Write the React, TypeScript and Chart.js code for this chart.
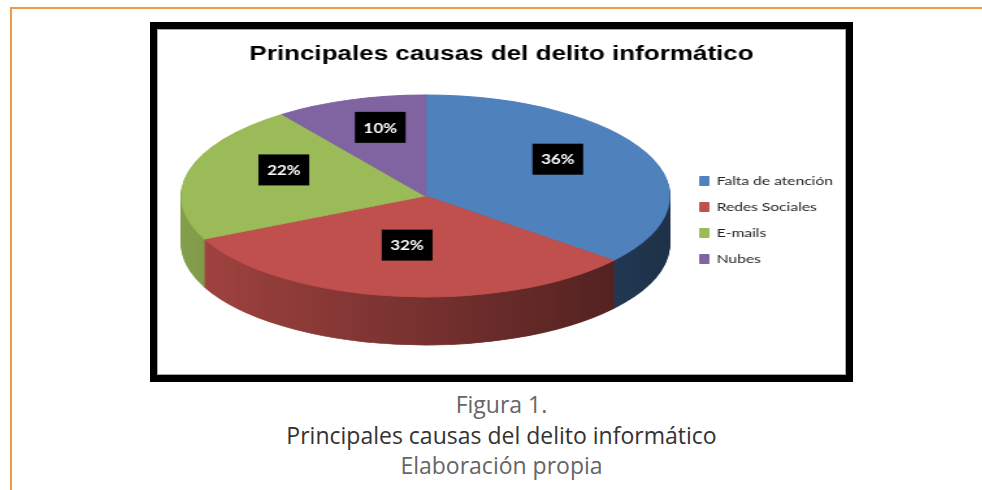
import React, { useEffect, useRef } from 'react';
import { Chart, registerables } from 'chart.js';

Chart.register(...registerables);

// ---- data ----
const categories = ['Falta de atención', 'Redes Sociales', 'E-mails', 'Nubes'];
const shares = [36, 32, 22, 10];
const sliceColors = ['#4F81BD', '#C0504D', '#9BBB59', '#8064A2'];
const chartTitle = 'Principales causas del delito informático';
const captionLines = ['Figura 1.', 'Principales causas del delito informático', 'Elaboración propia'];

// ---- style ----
const STRETCH = 1.3; // the reference chart image is stretched horizontally
const CANVAS_W = 530;
const CANVAS_H = 346;
const PIE = { left: 19, rxPerH: 0.75, ryPerH: 0.404, depthPerH: 0.192, sideLight: 0.85, sideDark: 0.38 };
const LABEL = { radial: 0.6, dy: -11, w: 39, h: 31 };

function shade(hex: string, f: number) {
  const n = parseInt(hex.slice(1), 16);
  const r = Math.round(((n >> 16) & 255) * f);
  const g = Math.round(((n >> 8) & 255) * f);
  const b = Math.round((n & 255) * f);
  return `rgb(${r},${g},${b})`;
}

function geometry(chart: any) {
  const ca = chart.chartArea;
  const h = ca.bottom - ca.top;
  const arc = chart.getDatasetMeta(0).data[0] as any;
  const rx = h * PIE.rxPerH;
  const ry = h * PIE.ryPerH;
  return {
    rx,
    ry,
    depth: h * PIE.depthPerH,
    cx: ca.left + PIE.left + rx,
    cy: ca.top + ry,
    ox: arc.x,
    oy: arc.y,
    r: arc.outerRadius,
  };
}

function applyT(ctx: CanvasRenderingContext2D, g: any, dy: number) {
  ctx.translate(g.cx, g.cy + dy);
  ctx.scale(g.rx / g.r, g.ry / g.r);
  ctx.translate(-g.ox, -g.oy);
}

const pie3d = {
  id: 'pie3d',
  beforeDatasetsDraw(chart: any) {
    const arcs = chart.getDatasetMeta(0).data as any[];
    if (!arcs.length) return;
    const g = geometry(chart);
    const ctx = chart.ctx as CanvasRenderingContext2D;
    const grads = arcs.map((arc, i) => {
      const base = sliceColors[i % sliceColors.length];
      const grad = ctx.createLinearGradient(g.ox - g.r, 0, g.ox + g.r, 0);
      grad.addColorStop(0, shade(base, PIE.sideLight));
      grad.addColorStop(1, shade(base, PIE.sideDark));
      return grad;
    });
    for (let d = Math.round(g.depth); d >= 1; d--) {
      ctx.save();
      applyT(ctx, g, d);
      arcs.forEach((arc, i) => {
        const orig = arc.options;
        arc.options = { ...orig, backgroundColor: grads[i], borderColor: grads[i], borderWidth: 1 };
        arc.draw(ctx);
        arc.options = orig;
      });
      ctx.restore();
    }
    ctx.save();
    applyT(ctx, g, 0);
  },
  afterDatasetsDraw(chart: any) {
    const ctx = chart.ctx as CanvasRenderingContext2D;
    ctx.restore();
    const arcs = chart.getDatasetMeta(0).data as any[];
    if (!arcs.length) return;
    const g = geometry(chart);
    const values = chart.data.datasets[0].data as number[];
    const total = values.reduce((a, b) => a + b, 0);
    ctx.save();
    arcs.forEach((arc, i) => {
      const mid = (arc.startAngle + arc.endAngle) / 2;
      const x = g.cx + Math.cos(mid) * g.rx * LABEL.radial;
      const y = g.cy + Math.sin(mid) * g.ry * LABEL.radial + LABEL.dy;
      ctx.fillStyle = '#000';
      ctx.fillRect(x - LABEL.w / 2, y - LABEL.h / 2, LABEL.w, LABEL.h);
      ctx.fillStyle = '#fff';
      ctx.font = 'bold 13px Lato, "Open Sans", sans-serif';
      ctx.textAlign = 'center';
      ctx.textBaseline = 'middle';
      ctx.fillText(Math.round((values[i] / total) * 100) + '%', x, y + 1);
    });
    ctx.restore();
  },
};

export default function App() {
  const ref = useRef<HTMLCanvasElement | null>(null);

  useEffect(() => {
    if (!ref.current) return;
    const chart = new Chart(ref.current, {
      type: 'pie',
      data: {
        labels: categories,
        datasets: [
          {
            data: shares,
            backgroundColor: sliceColors,
            borderColor: sliceColors,
            borderWidth: 1,
            clip: false,
          } as any,
        ],
      },
      options: {
        responsive: false,
        animation: false,
        events: [],
        layout: { padding: { left: 0, right: 0, top: 0, bottom: 30 } },
        plugins: {
          title: {
            display: true,
            text: chartTitle,
            color: '#000',
            font: { family: "'Liberation Sans', Arial, sans-serif", size: 20, weight: 'bold' },
            padding: { top: 13, bottom: 29 },
          },
          legend: {
            position: 'right',
            fullSize: false,
            labels: {
              boxWidth: 7,
              boxHeight: 9,
              padding: 14,
              color: '#222',
              font: { family: 'Lato, "Open Sans", sans-serif', size: 12 },
            },
          },
          tooltip: { enabled: false },
        },
      } as any,
      plugins: [pie3d as any],
    });
    return () => chart.destroy();
  }, []);

  return (
    <div
      style={{
        position: 'fixed',
        left: 10,
        top: 7,
        right: 0,
        bottom: 0,
        borderTop: '2px solid #EF9B45',
        borderLeft: '2px solid #EF9B45',
        background: '#fff',
      }}
    >
      <div
        style={{
          position: 'fixed',
          left: 150,
          top: 22,
          width: 703,
          height: 360,
          border: '7px solid #000',
          boxSizing: 'border-box',
          boxShadow: 'inset 0 0 0 1px #a8a8a8',
          background: '#fff',
        }}
      >
        <canvas
          ref={ref}
          width={CANVAS_W}
          height={CANVAS_H}
          style={{ width: CANVAS_W * STRETCH + 'px', height: CANVAS_H + 'px', display: 'block' }}
        />
      </div>
      <div
        style={{
          position: 'fixed',
          left: 150,
          top: 389,
          width: 703,
          textAlign: 'center',
          fontFamily: '"Open Sans", sans-serif',
          fontSize: 23,
          lineHeight: '30.5px',
        }}
      >
        <div style={{ color: '#666' }}>{captionLines[0]}</div>
        <div style={{ color: '#333' }}>{captionLines[1]}</div>
        <div style={{ color: '#666' }}>{captionLines[2]}</div>
      </div>
    </div>
  );
}
